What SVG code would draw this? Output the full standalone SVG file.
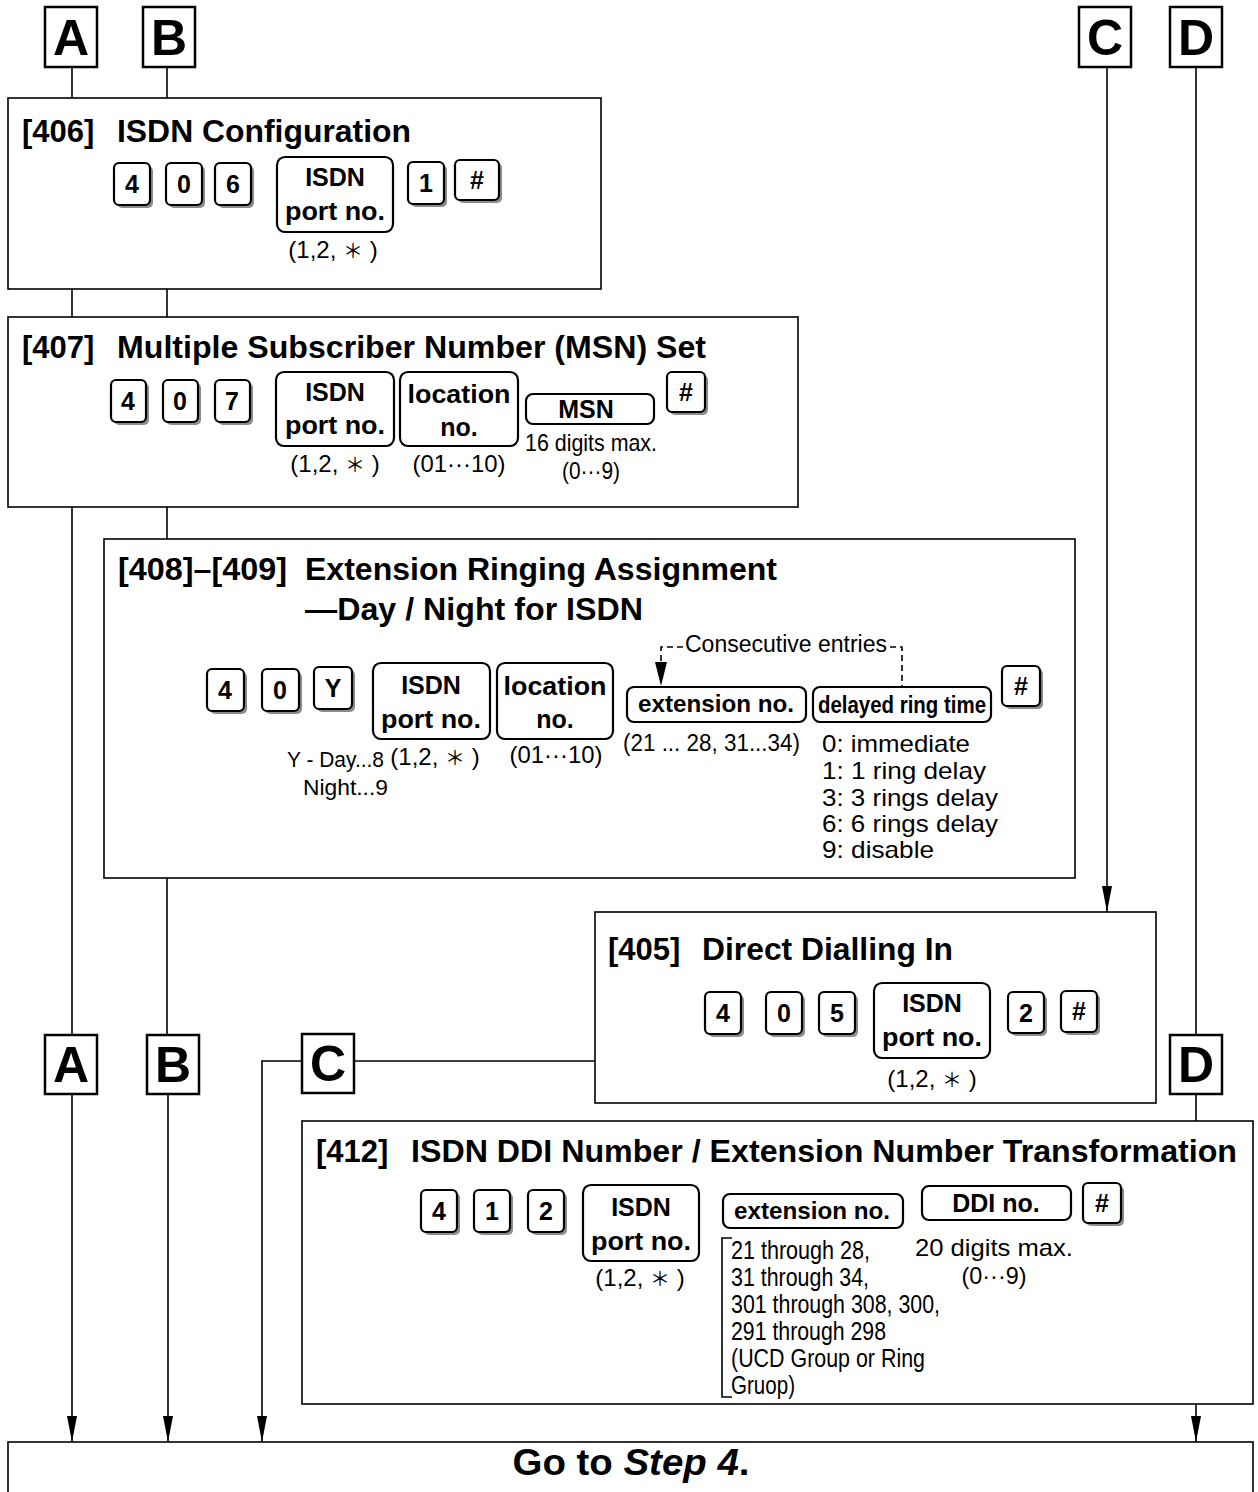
<svg xmlns="http://www.w3.org/2000/svg" width="1258" height="1492" viewBox="0 0 1258 1492">
<defs>
<style>
text{font-family:"Liberation Sans",Arial,sans-serif;fill:#000}
.sec{fill:#fff;stroke:#000;stroke-width:1.6}
.key{fill:#fff;stroke:#000;stroke-width:2.2}
.ksh{fill:#8c8c8c}
.box{fill:#fff;stroke:#000;stroke-width:2.2}
.lbox{fill:#fff;stroke:#000;stroke-width:2.5}
.letter{font-size:50px;font-weight:bold;text-anchor:middle}
.title{font-size:31px;font-weight:bold}
.kt{font-size:25px;font-weight:bold;text-anchor:middle}
.bt{font-size:25px;font-weight:bold;text-anchor:middle}
.lab{font-size:24px;text-anchor:middle}
.cond{font-size:25px}
.list{font-size:24px}
.ln{fill:none;stroke:#000;stroke-width:1.6}
.dash{fill:none;stroke:#000;stroke-width:1.6;stroke-dasharray:6 4}
.ast{font-family:"Noto Sans CJK JP","DejaVu Sans",sans-serif;font-size:20px}
</style>
<marker id="arrd" viewBox="0 0 26 10" refX="26" refY="5" markerWidth="26" markerHeight="10" markerUnits="userSpaceOnUse" orient="auto">
<path d="M0,0 L26,5 L0,10 Z" fill="#000"/>
</marker>
</defs>
<rect width="1258" height="1492" fill="#fff"/>

<g id="connectors">
<line class="ln" x1="72" y1="67" x2="72" y2="98"/>
<line class="ln" x1="72" y1="289" x2="72" y2="317"/>
<line class="ln" x1="72" y1="507" x2="72" y2="1035"/>
<path class="ln" d="M72,1094 L72,1442" marker-end="url(#arrd)"/>
<line class="ln" x1="167" y1="67" x2="167" y2="98"/>
<line class="ln" x1="167" y1="289" x2="167" y2="317"/>
<line class="ln" x1="167" y1="507" x2="167" y2="539"/>
<line class="ln" x1="167" y1="878" x2="167" y2="1035"/>
<path class="ln" d="M168,1094 L168,1442" marker-end="url(#arrd)"/>
<path class="ln" d="M1107,67 L1107,912" marker-end="url(#arrd)"/>
<line class="ln" x1="595" y1="1061" x2="354" y2="1061"/>
<path class="ln" d="M302,1061 L262,1061 L262,1442" marker-end="url(#arrd)"/>
<line class="ln" x1="1196" y1="67" x2="1196" y2="1035"/>
<line class="ln" x1="1196" y1="1094" x2="1196" y2="1121"/>
<path class="ln" d="M1196,1404 L1196,1442" marker-end="url(#arrd)"/>
</g>

<g id="letterA_top"><rect class="lbox" x="45" y="7" width="52" height="60"/><text class="letter" x="71" y="55">A</text></g>
<g id="letterB_top"><rect class="lbox" x="143" y="7" width="52" height="60"/><text class="letter" x="169" y="55">B</text></g>
<g id="letterC_top"><rect class="lbox" x="1079" y="7" width="52" height="60"/><text class="letter" x="1105" y="55">C</text></g>
<g id="letterD_top"><rect class="lbox" x="1170" y="7" width="52" height="60"/><text class="letter" x="1196" y="55">D</text></g>

<g id="sec406">
<rect class="sec" x="8" y="98" width="593" height="191"/>
<text class="title" x="22" y="142">[406]</text>
<text class="title" x="117" y="142" textLength="294" lengthAdjust="spacingAndGlyphs">ISDN Configuration</text>
<rect class="ksh" x="117" y="166" width="36" height="42" rx="5"/><rect class="key" x="114" y="163" width="36" height="42" rx="5"/><text class="kt" x="132" y="193">4</text>
<rect class="ksh" x="169" y="166" width="36" height="42" rx="5"/><rect class="key" x="166" y="163" width="36" height="42" rx="5"/><text class="kt" x="184" y="193">0</text>
<rect class="ksh" x="218" y="166" width="36" height="42" rx="5"/><rect class="key" x="215" y="163" width="36" height="42" rx="5"/><text class="kt" x="233" y="193">6</text>
<rect class="box" x="277" y="157" width="116" height="75" rx="8"/>
<text class="bt" x="335" y="186">ISDN</text><text class="bt" x="335" y="220" textLength="100" lengthAdjust="spacingAndGlyphs">port no.</text>
<rect class="ksh" x="411" y="165" width="36" height="42" rx="5"/><rect class="key" x="408" y="162" width="36" height="42" rx="5"/><text class="kt" x="426" y="192">1</text>
<rect class="ksh" x="458" y="163" width="44" height="40" rx="5"/><rect class="key" x="455" y="160" width="44" height="40" rx="5"/><text class="kt" x="477" y="189">#</text>
<text class="lab" x="333" y="258">(1,2, <tspan class="ast">＊</tspan> )</text>
</g>

<g id="sec407">
<rect class="sec" x="8" y="317" width="790" height="190"/>
<text class="title" x="22" y="358">[407]</text>
<text class="title" x="117" y="358" textLength="589" lengthAdjust="spacingAndGlyphs">Multiple Subscriber Number (MSN) Set</text>
<rect class="ksh" x="114" y="383" width="35" height="42" rx="5"/><rect class="key" x="111" y="380" width="35" height="42" rx="5"/><text class="kt" x="128" y="410">4</text>
<rect class="ksh" x="166" y="383" width="35" height="42" rx="5"/><rect class="key" x="163" y="380" width="35" height="42" rx="5"/><text class="kt" x="180" y="410">0</text>
<rect class="ksh" x="218" y="383" width="35" height="42" rx="5"/><rect class="key" x="215" y="380" width="35" height="42" rx="5"/><text class="kt" x="232" y="410">7</text>
<rect class="box" x="276" y="372" width="118" height="74" rx="8"/>
<text class="bt" x="335" y="401">ISDN</text><text class="bt" x="335" y="434" textLength="100" lengthAdjust="spacingAndGlyphs">port no.</text>
<rect class="box" x="400" y="372" width="118" height="74" rx="8"/>
<text class="bt" x="459" y="403" textLength="103" lengthAdjust="spacingAndGlyphs">location</text><text class="bt" x="459" y="436">no.</text>
<rect class="box" x="526" y="394" width="128" height="30" rx="7"/>
<text class="bt" x="586" y="418">MSN</text>
<rect class="ksh" x="670" y="375" width="38" height="40" rx="5"/><rect class="key" x="667" y="372" width="38" height="40" rx="5"/><text class="kt" x="686" y="401">#</text>
<text class="lab" x="335" y="472">(1,2, <tspan class="ast">＊</tspan> )</text>
<text class="lab" x="459" y="472" textLength="93" lengthAdjust="spacingAndGlyphs">(01···10)</text>
<text class="lab" x="591" y="451" textLength="132" lengthAdjust="spacingAndGlyphs">16 digits max.</text>
<text class="lab" x="591" y="479" textLength="58" lengthAdjust="spacingAndGlyphs">(0···9)</text>
</g>

<g id="sec408">
<rect class="sec" x="104" y="539" width="971" height="339"/>
<text class="title" x="118" y="580" textLength="169" lengthAdjust="spacingAndGlyphs">[408]–[409]</text>
<text class="title" x="305" y="580" textLength="472" lengthAdjust="spacingAndGlyphs">Extension Ringing Assignment</text>
<text class="title" x="305" y="620" textLength="338" lengthAdjust="spacingAndGlyphs">—Day / Night for ISDN</text>
<rect class="ksh" x="210" y="672" width="37" height="42" rx="5"/><rect class="key" x="207" y="669" width="37" height="42" rx="5"/><text class="kt" x="225" y="699">4</text>
<rect class="ksh" x="265" y="672" width="37" height="42" rx="5"/><rect class="key" x="262" y="669" width="37" height="42" rx="5"/><text class="kt" x="280" y="699">0</text>
<rect class="ksh" x="317" y="670" width="38" height="42" rx="5"/><rect class="key" x="314" y="667" width="38" height="42" rx="5"/><text class="kt" x="333" y="697">Y</text>
<rect class="box" x="373" y="663" width="117" height="76" rx="8"/>
<text class="bt" x="431" y="694">ISDN</text><text class="bt" x="431" y="728" textLength="100" lengthAdjust="spacingAndGlyphs">port no.</text>
<rect class="box" x="497" y="663" width="116" height="76" rx="8"/>
<text class="bt" x="555" y="695" textLength="103" lengthAdjust="spacingAndGlyphs">location</text><text class="bt" x="555" y="728">no.</text>
<rect class="box" x="627" y="687" width="179" height="35" rx="7"/>
<text class="kt" x="716" y="712" style="font-size:24px" textLength="156" lengthAdjust="spacingAndGlyphs">extension no.</text>
<rect class="box" x="813" y="687" width="178" height="35" rx="7"/>
<text class="kt" x="902" y="713" style="font-size:23px" textLength="168" lengthAdjust="spacingAndGlyphs">delayed ring time</text>
<rect class="ksh" x="1005" y="669" width="38" height="40" rx="5"/><rect class="key" x="1002" y="666" width="38" height="40" rx="5"/><text class="kt" x="1021" y="695">#</text>
<path class="dash" d="M683,647 L661,647 L661,662"/>
<path d="M655,662 L667,662 L661,686 Z" fill="#000"/>
<path class="dash" d="M890,647 L902,647 L902,687"/>
<text x="685" y="652" style="font-size:23px" textLength="202" lengthAdjust="spacingAndGlyphs">Consecutive entries</text>
<text x="623" y="751" style="font-size:23px" textLength="177" lengthAdjust="spacingAndGlyphs">(21 ... 28, 31...34)</text>
<text x="287" y="767" style="font-size:22px" textLength="97" lengthAdjust="spacingAndGlyphs">Y - Day...8</text>
<text x="303" y="795" style="font-size:22px" textLength="85" lengthAdjust="spacingAndGlyphs">Night...9</text>
<text class="lab" x="435" y="765">(1,2, <tspan class="ast">＊</tspan> )</text>
<text class="lab" x="556" y="763" textLength="93" lengthAdjust="spacingAndGlyphs">(01···10)</text>
<text class="list" x="822" y="752" textLength="148" lengthAdjust="spacingAndGlyphs">0: immediate</text>
<text class="list" x="822" y="779" textLength="164" lengthAdjust="spacingAndGlyphs">1: 1 ring delay</text>
<text class="list" x="822" y="806" textLength="176" lengthAdjust="spacingAndGlyphs">3: 3 rings delay</text>
<text class="list" x="822" y="832" textLength="176" lengthAdjust="spacingAndGlyphs">6: 6 rings delay</text>
<text class="list" x="822" y="858" textLength="112" lengthAdjust="spacingAndGlyphs">9: disable</text>
</g>

<g id="sec405">
<rect class="sec" x="595" y="912" width="561" height="191"/>
<text class="title" x="608" y="960">[405]</text>
<text class="title" x="702" y="960" textLength="251" lengthAdjust="spacingAndGlyphs">Direct Dialling In</text>
<rect class="ksh" x="708" y="995" width="36" height="42" rx="5"/><rect class="key" x="705" y="992" width="36" height="42" rx="5"/><text class="kt" x="723" y="1022">4</text>
<rect class="ksh" x="769" y="995" width="36" height="42" rx="5"/><rect class="key" x="766" y="992" width="36" height="42" rx="5"/><text class="kt" x="784" y="1022">0</text>
<rect class="ksh" x="822" y="995" width="36" height="42" rx="5"/><rect class="key" x="819" y="992" width="36" height="42" rx="5"/><text class="kt" x="837" y="1022">5</text>
<rect class="box" x="874" y="983" width="116" height="75" rx="8"/>
<text class="bt" x="932" y="1012">ISDN</text><text class="bt" x="932" y="1046" textLength="100" lengthAdjust="spacingAndGlyphs">port no.</text>
<rect class="ksh" x="1011" y="995" width="36" height="41" rx="5"/><rect class="key" x="1008" y="992" width="36" height="41" rx="5"/><text class="kt" x="1026" y="1022">2</text>
<rect class="ksh" x="1064" y="994" width="36" height="41" rx="5"/><rect class="key" x="1061" y="991" width="36" height="41" rx="5"/><text class="kt" x="1079" y="1020">#</text>
<text class="lab" x="932" y="1087">(1,2, <tspan class="ast">＊</tspan> )</text>
</g>

<g id="letterA_mid"><rect class="lbox" x="45" y="1035" width="52" height="59"/><text class="letter" x="71" y="1082">A</text></g>
<g id="letterB_mid"><rect class="lbox" x="147" y="1035" width="52" height="59"/><text class="letter" x="173" y="1082">B</text></g>
<g id="letterC_mid"><rect class="lbox" x="302" y="1034" width="52" height="59"/><text class="letter" x="328" y="1081">C</text></g>
<g id="letterD_mid"><rect class="lbox" x="1170" y="1035" width="52" height="59"/><text class="letter" x="1196" y="1082">D</text></g>

<g id="sec412">
<rect class="sec" x="302" y="1121" width="951" height="283"/>
<text class="title" x="316" y="1162">[412]</text>
<text class="title" x="411" y="1162" textLength="826" lengthAdjust="spacingAndGlyphs">ISDN DDI Number / Extension Number Transformation</text>
<rect class="ksh" x="424" y="1193" width="36" height="42" rx="5"/><rect class="key" x="421" y="1190" width="36" height="42" rx="5"/><text class="kt" x="439" y="1220">4</text>
<rect class="ksh" x="477" y="1193" width="36" height="42" rx="5"/><rect class="key" x="474" y="1190" width="36" height="42" rx="5"/><text class="kt" x="492" y="1220">1</text>
<rect class="ksh" x="531" y="1193" width="36" height="42" rx="5"/><rect class="key" x="528" y="1190" width="36" height="42" rx="5"/><text class="kt" x="546" y="1220">2</text>
<rect class="box" x="583" y="1185" width="116" height="76" rx="8"/>
<text class="bt" x="641" y="1216">ISDN</text><text class="bt" x="641" y="1250" textLength="100" lengthAdjust="spacingAndGlyphs">port no.</text>
<rect class="box" x="723" y="1194" width="180" height="34" rx="7"/>
<text class="kt" x="812" y="1219" style="font-size:24px" textLength="156" lengthAdjust="spacingAndGlyphs">extension no.</text>
<rect class="box" x="922" y="1186" width="149" height="34" rx="7"/>
<text class="bt" x="996" y="1212">DDI no.</text>
<rect class="ksh" x="1086" y="1186" width="38" height="40" rx="5"/><rect class="key" x="1083" y="1183" width="38" height="40" rx="5"/><text class="kt" x="1102" y="1212">#</text>
<text class="lab" x="640" y="1286">(1,2, <tspan class="ast">＊</tspan> )</text>
<path class="ln" d="M732,1238 L722,1238 L722,1397 L732,1397"/>
<text class="cond" x="731" y="1259" textLength="139" lengthAdjust="spacingAndGlyphs">21 through 28,</text>
<text class="cond" x="731" y="1286" textLength="138" lengthAdjust="spacingAndGlyphs">31 through 34,</text>
<text class="cond" x="731" y="1313" textLength="209" lengthAdjust="spacingAndGlyphs">301 through 308, 300,</text>
<text class="cond" x="731" y="1340" textLength="155" lengthAdjust="spacingAndGlyphs">291 through 298</text>
<text class="cond" x="731" y="1367" textLength="194" lengthAdjust="spacingAndGlyphs">(UCD Group or Ring</text>
<text class="cond" x="731" y="1394" textLength="64" lengthAdjust="spacingAndGlyphs">Gruop)</text>
<text class="lab" x="994" y="1256" textLength="158" lengthAdjust="spacingAndGlyphs">20 digits max.</text>
<text class="lab" x="994" y="1284" textLength="65" lengthAdjust="spacingAndGlyphs">(0···9)</text>
</g>

<g id="goto">
<rect class="sec" x="8" y="1442" width="1245" height="70"/>
<text x="631" y="1475" style="font-size:36px;font-weight:bold;text-anchor:middle" textLength="237" lengthAdjust="spacingAndGlyphs">Go to <tspan font-style="italic">Step 4</tspan>.</text>
</g>
</svg>
